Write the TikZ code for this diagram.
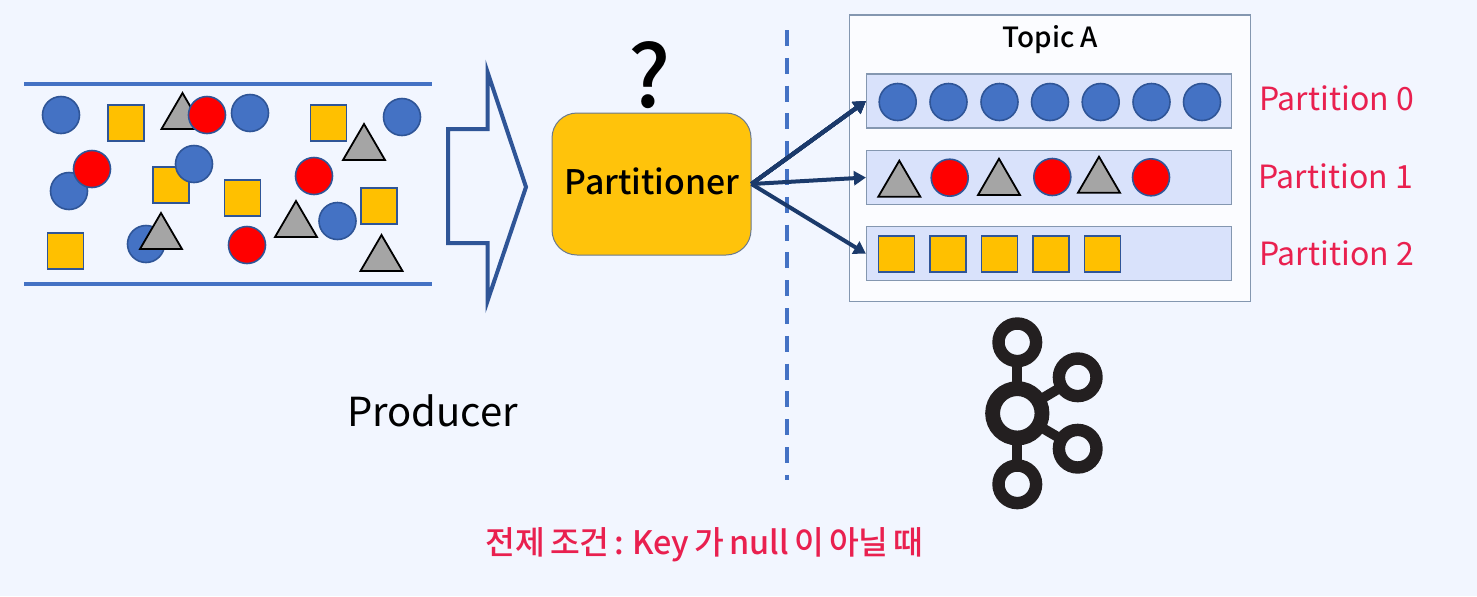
\documentclass[tikz,border=0pt]{standalone}
\usepackage{fontspec}
\setmainfont{Noto Sans CJK KR}
\newfontfamily\medfont{Noto Sans CJK KR Medium}
\usetikzlibrary{arrows.meta}
\definecolor{bgc}{HTML}{F2F6FF}
\definecolor{dotblue}{HTML}{4472C4}
\definecolor{darkblue}{HTML}{2F5597}
\definecolor{amber}{HTML}{FFC000}
\definecolor{boxamber}{HTML}{FFC30B}
\definecolor{grayfill}{HTML}{A5A5A5}
\definecolor{arrowblue}{HTML}{1B3A6B}
\definecolor{rosered}{HTML}{E9204F}
\definecolor{framec}{HTML}{8497B0}
\definecolor{rowfill}{HTML}{D9E2FB}
\definecolor{topicfill}{HTML}{FBFCFF}
\definecolor{logoc}{HTML}{231F20}
\tikzset{
  bluedot/.style={fill=dotblue,draw=darkblue,line width=.8pt},
  reddot/.style={fill=red,draw=darkblue,line width=.8pt},
  amberbox/.style={fill=amber,draw=darkblue,line width=.8pt},
  graytri/.style={fill=grayfill,draw=black,line width=.9pt,line join=miter},
  pipe/.style={draw=dotblue,line width=2pt},
  rowbox/.style={draw=framec,fill=rowfill,line width=.6pt,minimum width=182.5pt,minimum height=27pt,inner sep=0pt},
  flow/.style={draw=arrowblue,line width=2pt,-{Triangle[length=6pt,width=7pt]},shorten >=0pt},
  redlabel/.style={text=rosered,font=\fontsize{16pt}{20pt}\selectfont,inner sep=0pt},
  ring/.style={draw=logoc,fill=bgc},
  stem/.style={draw=logoc,line width=5pt}
}
\newcommand{\sq}[2]{\draw[amberbox] (#1-18,#2-18) rectangle (#1+18,#2+18);}
\newcommand{\tri}[3]{\draw[graytri] (#1,#2) -- (#1-21,#3) -- (#1+21,#3) -- cycle;}
\begin{document}
\begin{tikzpicture}[x=0.5pt,y=-0.5pt]
\useasboundingbox (0,0) rectangle (1477,596);
\fill[bgc] (0,0) rectangle (1477,596);
% stream
\draw[pipe] (24,83.5) -- (432,83.5);
\draw[pipe] (24,284) -- (432,284);
\sq{126}{123}\sq{328.5}{123}\sq{171}{185}\sq{242.5}{198}\sq{379}{206}\sq{65.5}{251}
\foreach \x/\y in {61/115,250/113,402/117,69/191,194/164,337.5/221,146/244}
  \draw[bluedot] (\x,\y) circle[radius=18.5];
\tri{182.5}{93}{129}\tri{364}{124}{160}\tri{296}{201}{237}\tri{161}{213}{249}\tri{381.5}{235}{271}
\foreach \x/\y in {207/115,92/169,314/176,247/245}
  \draw[reddot] (\x,\y) circle[radius=18.5];
% block arrow
\draw[draw=darkblue,line width=2pt,miter limit=10] (448,129) -- (487.5,129) -- (487.5,72) -- (526,187) -- (487.5,301) -- (487.5,243) -- (448,243) -- cycle;
% partitioner
\node[draw=framec!80!black,fill=boxamber,line width=.5pt,rounded corners=12.5pt,minimum width=99.5pt,minimum height=71pt,inner sep=0pt] (part) at (651.5,184) {};
\node[font=\medfont\fontsize{16.9pt}{21pt}\selectfont,inner sep=0pt] (ptext) at (652,181) {Partitioner};
\node[font=\medfont\fontsize{43pt}{47pt}\selectfont,inner sep=0pt] (q) at (650,75) {?};
% divider
\coordinate (dtop) at (786.7,30);
\coordinate (dbot) at (786.7,480);
\draw[draw=dotblue,line width=2pt,dash pattern=on 8pt off 5.9pt] (dtop) -- (dbot);
% topic
\node[draw=framec,fill=topicfill,line width=.6pt,minimum width=200.5pt,minimum height=143.3pt,inner sep=0pt] (topic) at (1050,158.3) {};
\node[font=\medfont\fontsize{13.9pt}{17pt}\selectfont,inner sep=0pt] (tname) at (1050.5,40) {Topic A};
\node[rowbox] (p0) at (1049,101) {};
\node[rowbox] (p1) at (1049,177.5) {};
\node[rowbox] (p2) at (1049,253.7) {};
\foreach \x in {897.7,948.5,999.5,1050,1100.7,1151.5,1202}
  \draw[bluedot] (\x,102) circle[radius=18.5];
\tri{899.3}{160.7}{196.7}\tri{999}{158.7}{195}\tri{1099}{156.7}{192.7}
\foreach \x/\y in {949.7/177.7,1052.3/177,1151/177.3}
  \draw[reddot] (\x,\y) circle[radius=18.5];
\foreach \x in {896.5,948,999.3,1050.7,1102.3}
  \sq{\x}{254}
% arrows
\draw[flow] (part.east) -- (p0.west);
\draw[flow] (part.east) -- (p1.west);
\draw[flow] (part.east) -- (p2.west);
% labels
\node[redlabel] (l0) at (1336.5,98) {Partition 0};
\node[redlabel] (l1) at (1335.5,176) {Partition 1};
\node[redlabel] (l2) at (1336.5,253) {Partition 2};
\node[font=\fontsize{20pt}{24pt}\selectfont,inner sep=0pt] (prod) at (432.5,410.5) {Producer};
\node[text=rosered,font=\medfont\fontsize{16.2pt}{20pt}\selectfont,inner sep=0pt] (cond) at (704.5,545) {\spaceskip=.16em 전제 조건 : Key 가 null 이 아닐 때};
% kafka logo
\draw[stem] (1017.3,342.3) -- (1017.3,484.3);
\draw[stem] (1017.3,413.3) -- (1077.7,377.3);
\draw[stem] (1017.3,413.3) -- (1077.7,448.7);
\draw[ring,line width=6.2pt] (1017.3,342.3) circle[radius=18.8];
\draw[ring,line width=6.2pt] (1077.7,377.3) circle[radius=18.8];
\draw[ring,line width=6.2pt] (1077.7,448.7) circle[radius=18.8];
\draw[ring,line width=6.2pt] (1017.3,484.3) circle[radius=18.8];
\draw[ring,line width=7.4pt] (1017.3,413.3) circle[radius=24.7];
\end{tikzpicture}
\end{document}
